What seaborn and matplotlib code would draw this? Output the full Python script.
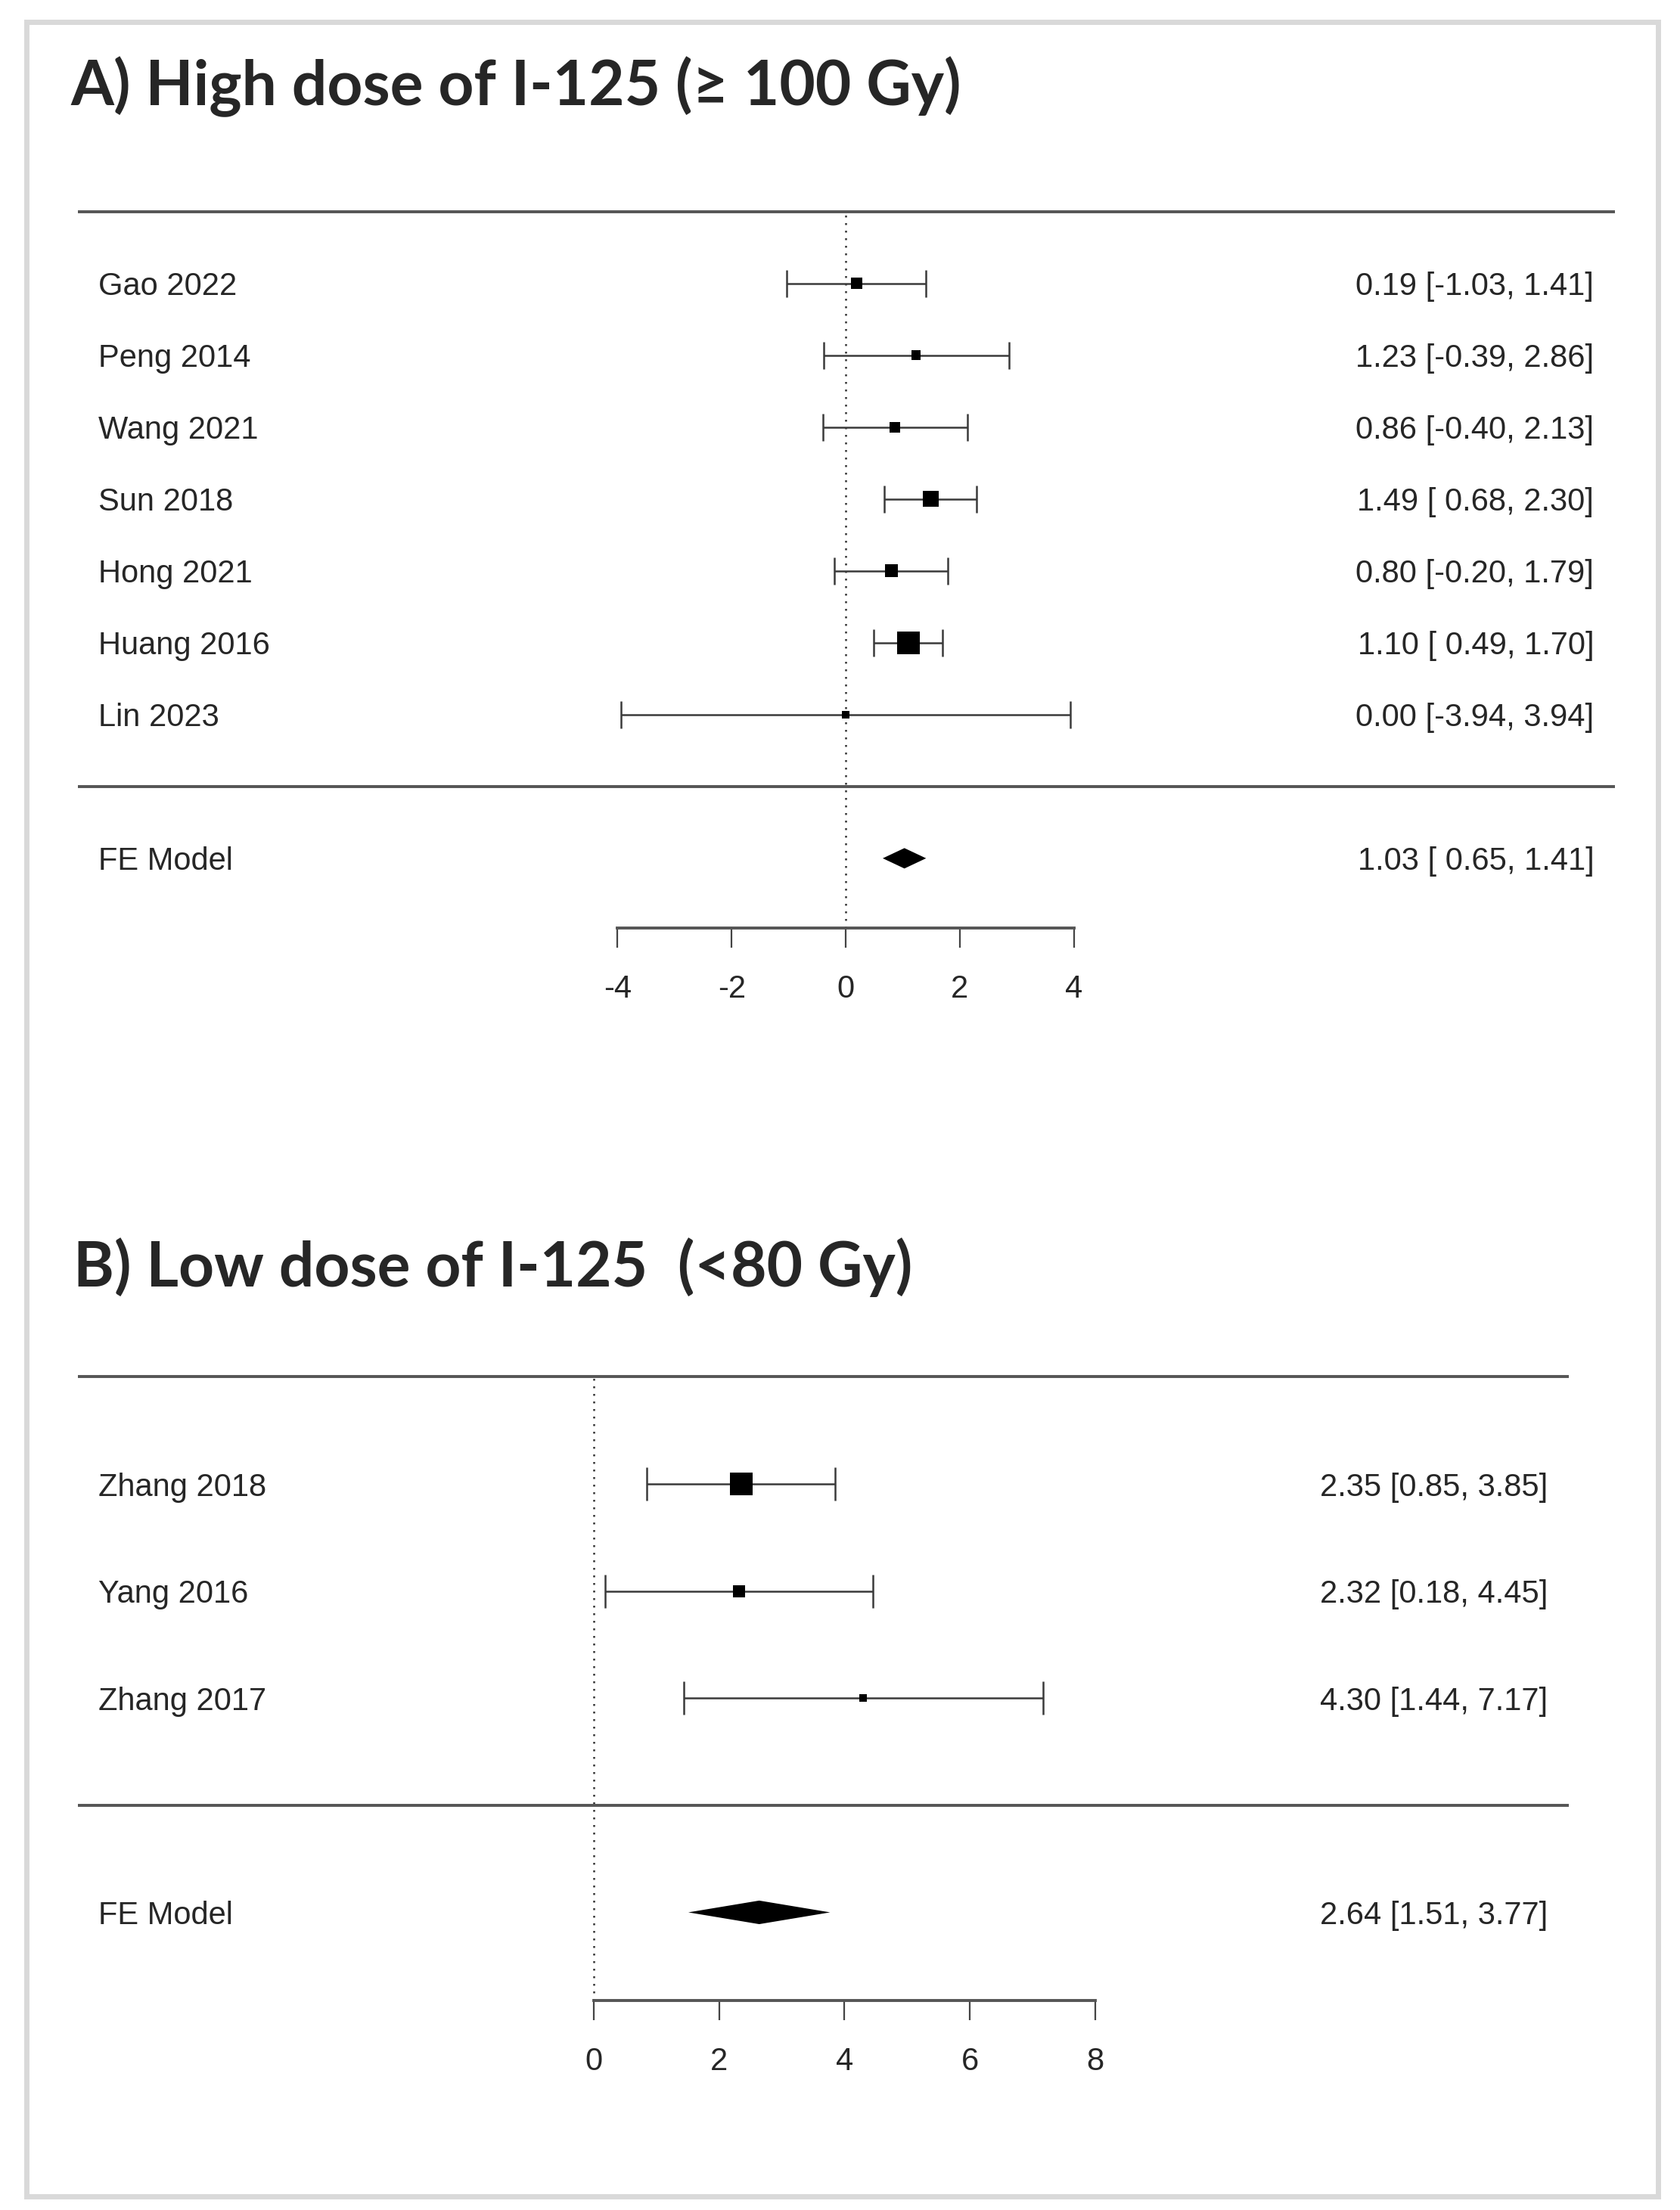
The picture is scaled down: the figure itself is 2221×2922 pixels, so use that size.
import numpy as np
import matplotlib
matplotlib.use("Agg")
import matplotlib.pyplot as plt
import seaborn as sns
from matplotlib.patches import Rectangle

# A) high dose studies
studies_a = ["Gao 2022", "Peng 2014", "Wang 2021", "Sun 2018", "Hong 2021", "Huang 2016", "Lin 2023"]
est_a = [0.19, 1.23, 0.86, 1.49, 0.80, 1.10, 0.00]
lo_a = [-1.03, -0.39, -0.40, 0.68, -0.20, 0.49, -3.94]
hi_a = [1.41, 2.86, 2.13, 2.30, 1.79, 1.70, 3.94]
fe_a = [1.03, 0.65, 1.41]
ticks_a = [-4, -2, 0, 2, 4]

# B) low dose studies
studies_b = ["Zhang 2018", "Yang 2016", "Zhang 2017"]
est_b = [2.35, 2.32, 4.30]
lo_b = [0.85, 0.18, 1.44]
hi_b = [3.85, 4.45, 7.17]
fe_b = [2.64, 1.51, 3.77]
ticks_b = [0, 2, 4, 6, 8]

sns.set_theme(style="white")
plt.rcParams["font.family"] = ["Liberation Sans", "DejaVu Sans"]
plt.rcParams["axes.unicode_minus"] = False

W, H = 2221, 2922
fig = plt.figure(figsize=(W / 100, H / 100), dpi=100)


def box(left, top, right, bottom):
    # pixel box -> figure fraction
    return [left / W, 1 - bottom / H, (right - left) / W, (bottom - top) / H]


def forest(ax, names, est, lo, hi, fe, ticks, xlim, ylim, cap, dh, pad_lo, txt_x):
    k = len(names)
    rows = np.arange(k, 0, -1)
    est, lo, hi = np.asarray(est), np.asarray(lo), np.asarray(hi)
    # box size from inverse-variance weight, scaled 0.5..1.5 like metafor
    w = 1 / ((hi - lo) / 3.92) ** 2
    psize = 0.5 + (w - w.min()) / (w.max() - w.min())

    ax.plot([0, 0], [ylim[0], k + 1], color="#333333", lw=1.8,
            ls=(0, (1, 3)), zorder=1)
    ax.errorbar(est, rows, xerr=[est - lo, hi - est], fmt="none",
                ecolor="#3a3a3a", elinewidth=1.8, capsize=cap, capthick=1.8, zorder=2)
    sns.scatterplot(x=est, y=rows, marker="s", s=(14.4 * psize) ** 2, color="black",
                    linewidth=0, legend=False, ax=ax, zorder=3)
    m, l, u = fe
    ax.fill([l, m, u, m], [-1, -1 + dh, -1, -1 - dh], color="black", lw=0, zorder=3)

    ax.axhline(k + 1, color="#555555", lw=2.8)
    ax.axhline(0, color="#555555", lw=2.8)

    tr = ax.get_yaxis_transform()
    for name, y, e, a, b in zip(names, rows, est, lo, hi):
        ax.text(0.0137, y, name, transform=tr, ha="left", va="center_baseline", fontsize=30)
        lo_txt = f"{a:5.2f}" if pad_lo else f"{a:.2f}"
        ax.text(txt_x, y, f"{e:.2f} [{lo_txt}, {b:.2f}]", transform=tr,
                ha="right", va="center_baseline", fontsize=30)
    ax.text(0.0137, -1, "FE Model", transform=tr, ha="left", va="center_baseline", fontsize=30)
    lo_txt = f"{l:5.2f}" if pad_lo else f"{l:.2f}"
    ax.text(txt_x, -1, f"{m:.2f} [{lo_txt}, {u:.2f}]", transform=tr,
            ha="right", va="center_baseline", fontsize=30)

    ax.set_xlim(xlim)
    ax.set_ylim(ylim)
    sns.despine(ax=ax, left=True)
    ax.spines["bottom"].set_bounds(ticks[0], ticks[-1])
    ax.spines["bottom"].set_color("#555555")
    ax.spines["bottom"].set_linewidth(2.8)
    ax.set_xticks(ticks)
    ax.set_xticklabels([str(t) for t in ticks])
    ax.set_yticks([])
    ax.tick_params(axis="x", bottom=True, direction="out", length=19, width=1.6,
                   color="#444444", pad=25, labelsize=30)
    ax.set_xlabel("")
    ax.set_ylabel("")
    ax.patch.set_alpha(0)


ax_a = fig.add_axes(box(102.5, 232, 2135, 1227))
ax_b = fig.add_axes(box(102.5, 1778, 2074, 2645))

forest(ax_a, studies_a, est_a, lo_a, hi_a, fe_a, ticks_a,
       (-13.468, 13.488), (-1.97, 8.5), 13, 0.142, True, 0.9864)
forest(ax_b, studies_b, est_b, lo_b, hi_b, fe_b, ticks_b,
       (-8.23, 15.55), (-1.823, 4.3), 16, 0.11, False, 0.9858)

fig.text(93 / W, 1 - 139 / H, "A) High dose of I-125 (≥ 100 Gy)", fontsize=59,
         fontweight="bold", family=["Lato", "DejaVu Sans"], va="baseline", ha="left")
fig.text(97 / W, 1 - 1701 / H, "B) Low dose of I-125  (<80 Gy)", fontsize=59,
         fontweight="bold", family=["Lato", "DejaVu Sans"], va="baseline", ha="left")

# light grey frame round the whole picture
fig.patches.append(Rectangle((34.5 / W, 1 - 2903.5 / H), (2191.5 - 34.5) / W,
                             (2903.5 - 28.5) / H, transform=fig.transFigure,
                             fill=False, edgecolor="#d9d9d9", lw=5))

fig.savefig("out.png", dpi=100)
